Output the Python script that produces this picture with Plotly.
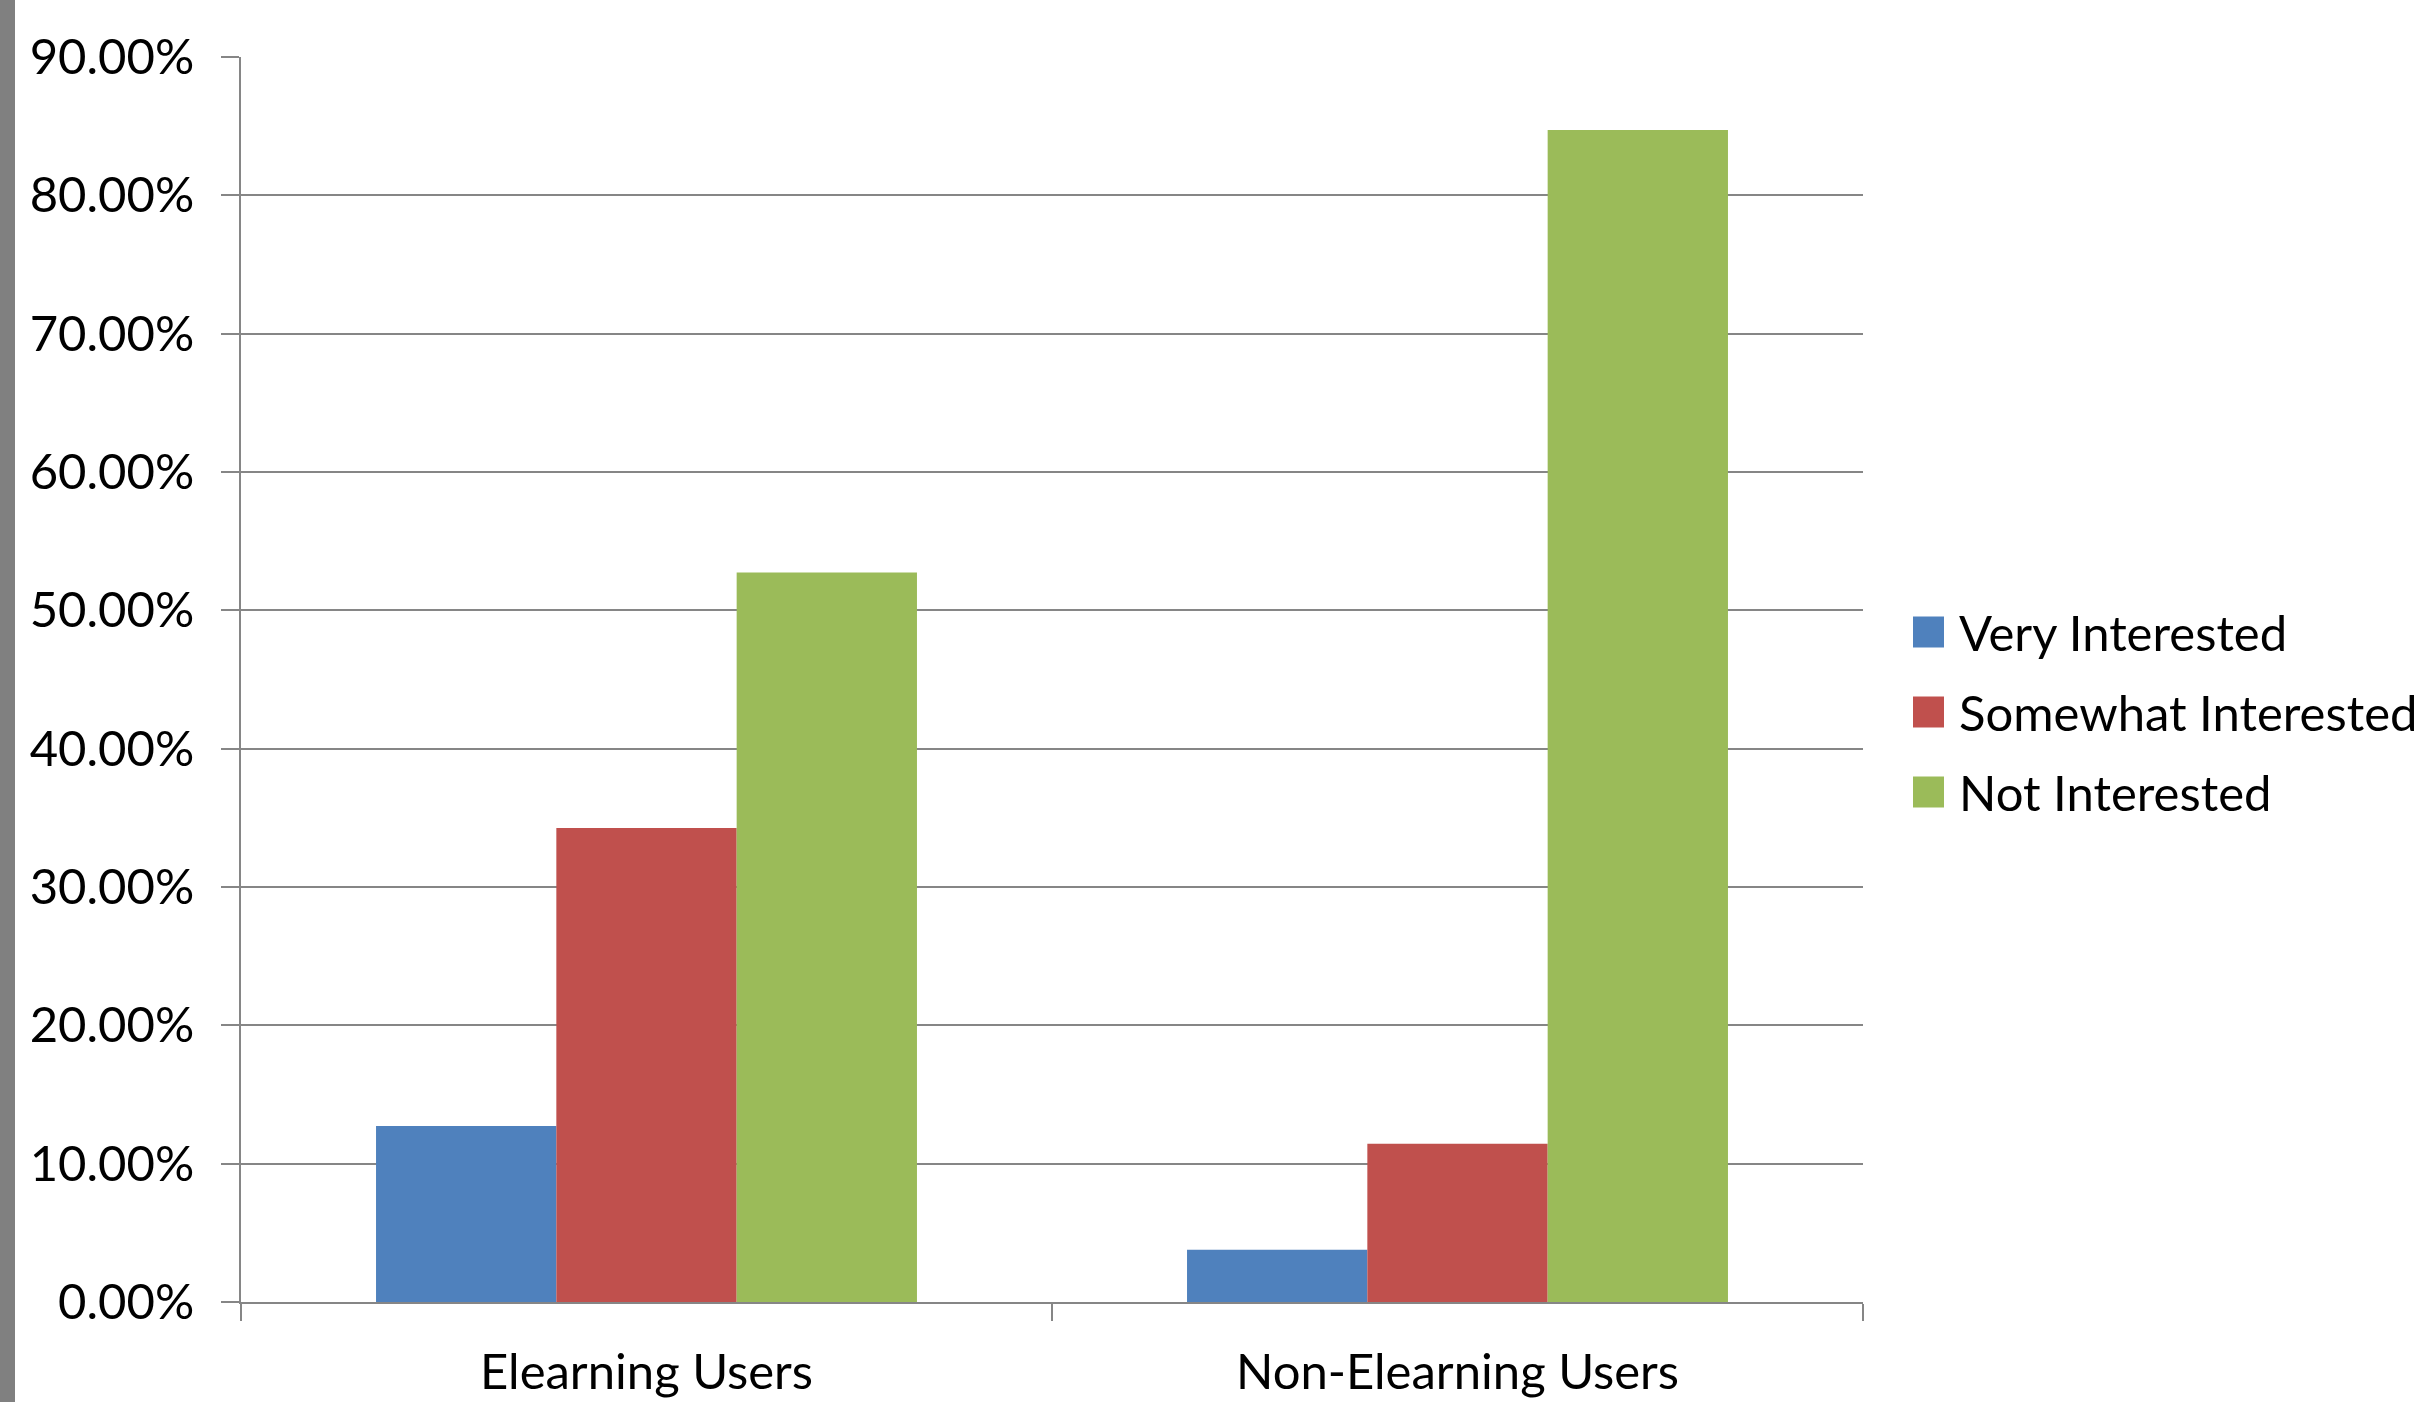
import plotly.graph_objects as go

# Survey groups and interest levels
groups = ["Elearning Users", "Non-Elearning Users"]
series_names = ["Very Interested", "Somewhat Interested", "Not Interested"]
very_interested = [0.1273, 0.0378]
somewhat_interested = [0.3427, 0.1144]
not_interested = [0.5273, 0.8472]
series_colors = ["#4F81BD", "#C0504D", "#9BBB59"]
y_ticks = [0.0, 0.1, 0.2, 0.3, 0.4, 0.5, 0.6, 0.7, 0.8, 0.9]

W, H = 2428, 1402
ML, MR, MT, MB = 241, 565, 57, 100
plot_h = H - MT - MB
FONT = "Lato"
FS = 49
GRID = "#868686"

fig = go.Figure()
for name, vals, col in zip(series_names,
                           [very_interested, somewhat_interested, not_interested],
                           series_colors):
    fig.add_trace(go.Bar(x=groups, y=vals, name=name, marker_color=col,
                         marker_line_width=0, showlegend=False))

# Legend drawn as square swatches plus text labels to the right of the plot
legend_px_y = [632, 712, 792]
shapes = []
annotations = []
for name, col, py in zip(series_names, series_colors, legend_px_y):
    yp = (H - MB - py) / plot_h
    shapes.append(dict(type="rect", xref="paper", yref="paper",
                       xsizemode="pixel", ysizemode="pixel",
                       xanchor=1.0, yanchor=yp,
                       x0=50, x1=81, y0=-15.5, y1=15.5,
                       fillcolor=col, line_width=0))
    annotations.append(dict(text=name, xref="paper", yref="paper",
                            x=1.0 + 94 / (W - ML - MR), y=yp,
                            xanchor="left", yanchor="middle", showarrow=False,
                            font=dict(family=FONT, size=FS, color="black")))

# Gray strip along the left edge
shapes.append(dict(type="rect", xref="paper", yref="paper",
                   xsizemode="pixel", ysizemode="pixel",
                   xanchor=0, yanchor=0,
                   x0=-ML, x1=-ML + 15, y0=-MB - 5, y1=plot_h + MT + 5,
                   fillcolor="#808080", line_width=0, layer="above"))

fig.update_layout(
    width=W, height=H,
    margin=dict(l=ML, r=MR, t=MT, b=MB, pad=0, autoexpand=False),
    paper_bgcolor="white", plot_bgcolor="white",
    barmode="group", bargap=0.333, bargroupgap=0,
    font=dict(family=FONT, size=FS, color="black"),
    shapes=shapes, annotations=annotations,
    showlegend=False,
)
fig.update_xaxes(
    automargin=False,
    showline=True, linecolor=GRID, linewidth=2,
    ticks="outside", ticklen=17, tickwidth=2, tickcolor=GRID,
    tickson="boundaries", showgrid=False,
    tickfont=dict(family=FONT, size=FS, color="black"),
    ticklabelstandoff=26,
)
fig.update_yaxes(
    automargin=False,
    range=[0, 0.9], tickvals=y_ticks, tickformat=".2%",
    showline=True, linecolor=GRID, linewidth=2,
    ticks="outside", ticklen=18, tickwidth=2, tickcolor=GRID,
    showgrid=True, gridcolor=GRID, gridwidth=2,
    zeroline=False,
    tickfont=dict(family=FONT, size=FS, color="black"),
    ticklabelstandoff=17,
)

fig.write_html("out.html")
